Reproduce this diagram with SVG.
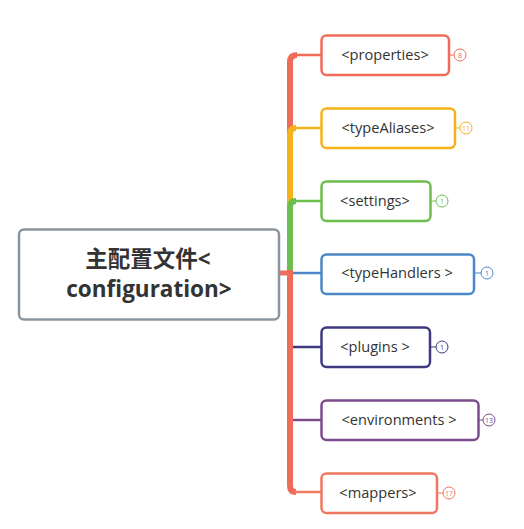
<svg xmlns="http://www.w3.org/2000/svg" width="524" height="529" viewBox="0 0 524 529">
<style>
.box{fill:#fff;stroke-width:2.5}
.t{font-family:"Open Sans","Noto Sans","Noto Sans CJK SC",sans-serif;font-size:14.6px;fill:#333;text-anchor:middle}
.rt{font-family:"Open Sans","Noto Sans","Noto Sans CJK SC",sans-serif;font-size:22.5px;font-weight:bold;fill:#333;text-anchor:middle}
.b{fill:#fff;stroke-width:1}
.bt{font-family:"Open Sans","Noto Sans",sans-serif;font-size:7px;text-anchor:middle}
.v{fill:none;stroke-width:6}
.h{fill:none;stroke-width:2.5}
</style>
<rect width="524" height="529" fill="#fff"/>
<g id="connectors">
  <path class="v" stroke="#f06c5a" d="M290,273 V62 Q290,55 297,55"/>
  <line class="h" stroke="#f06c5a" x1="296" y1="55" x2="321" y2="55"/>
  <path class="v" stroke="#f6b21a" d="M290,273 V134 Q290,128 296,128"/>
  <line class="h" stroke="#f6b21a" x1="296" y1="128" x2="321" y2="128"/>
  <path class="v" stroke="#6cbf4e" d="M290,271 V207 Q290,201 296,201"/>
  <line class="h" stroke="#6cbf4e" x1="296" y1="201" x2="321" y2="201"/>
  <line class="h" stroke="#4c88c6" x1="292" y1="273" x2="321" y2="273"/>
  <line class="h" stroke="#3e3a80" x1="292" y1="347" x2="321" y2="347"/>
  <line class="h" stroke="#7d4c8c" x1="292" y1="420" x2="321" y2="420"/>
  <path class="v" stroke="#f06c5a" d="M290,270 V486 Q290,492 296,492"/>
  <line class="h" stroke="#f07861" x1="295" y1="492" x2="321" y2="492"/>
  <line stroke="#f06c5a" stroke-width="5" x1="279" y1="273" x2="290" y2="273"/>
  <line stroke="#f06c5a" stroke-width="1" x1="449" y1="55" x2="454" y2="55"/>
  <line stroke="#f6b21a" stroke-width="1" x1="455" y1="128" x2="460" y2="128"/>
  <line stroke="#6cbf4e" stroke-width="1" x1="431" y1="201" x2="436" y2="201"/>
  <line stroke="#4c88c6" stroke-width="1" x1="474" y1="273" x2="481" y2="273"/>
  <line stroke="#3e3a80" stroke-width="1" x1="430" y1="347" x2="436" y2="347"/>
  <line stroke="#7d4c8c" stroke-width="1" x1="479" y1="420" x2="483" y2="420"/>
  <line stroke="#f07861" stroke-width="1" x1="437" y1="493" x2="443" y2="493"/>
</g>
<g id="root">
  <rect class="box" x="19" y="229.5" width="260" height="90" rx="5" stroke="#8b959e"/>
  <text class="rt" x="148" y="267">主配置文件&lt;</text>
  <text class="rt" x="149" y="297">configuration&gt;</text>
</g>
<g id="properties">
  <rect class="box" x="321.5" y="35.5" width="127.5" height="39.5" rx="5" stroke="#f06c5a"/>
  <text class="t" x="385" y="60">&lt;properties&gt;</text>
  <circle class="b" cx="460" cy="55" r="6" stroke="#f06c5a"/>
  <text class="bt" x="460" y="57.5" fill="#f06c5a">8</text>
</g>
<g id="typeAliases">
  <rect class="box" x="321.5" y="108.5" width="133.5" height="39.5" rx="5" stroke="#f6b21a"/>
  <text class="t" x="388" y="133">&lt;typeAliases&gt;</text>
  <circle class="b" cx="466" cy="128" r="6" stroke="#f6b21a"/>
  <text class="bt" x="466" y="130.5" fill="#f6b21a">11</text>
</g>
<g id="settings">
  <rect class="box" x="321.5" y="181.5" width="109" height="39.5" rx="5" stroke="#6cbf4e"/>
  <text class="t" x="375" y="206">&lt;settings&gt;</text>
  <circle class="b" cx="442" cy="201" r="6" stroke="#6cbf4e"/>
  <text class="bt" x="442" y="203.5" fill="#6cbf4e">1</text>
</g>
<g id="typeHandlers">
  <rect class="box" x="321.5" y="254.5" width="152.5" height="39.5" rx="5" stroke="#4c88c6"/>
  <text class="t" x="397" y="278">&lt;typeHandlers &gt;</text>
  <circle class="b" cx="487" cy="273" r="6" stroke="#4c88c6"/>
  <text class="bt" x="487" y="275.5" fill="#4c88c6">1</text>
</g>
<g id="plugins">
  <rect class="box" x="321.5" y="327.5" width="108.5" height="39.5" rx="5" stroke="#3e3a80"/>
  <text class="t" x="375" y="352">&lt;plugins &gt;</text>
  <circle class="b" cx="442" cy="347" r="6" stroke="#3e3a80"/>
  <text class="bt" x="442" y="349.5" fill="#3e3a80">1</text>
</g>
<g id="environments">
  <rect class="box" x="321.5" y="400.5" width="157" height="39.5" rx="5" stroke="#7d4c8c"/>
  <text class="t" x="399" y="425">&lt;environments &gt;</text>
  <circle class="b" cx="489" cy="420" r="6" stroke="#7d4c8c"/>
  <text class="bt" x="489" y="422.5" fill="#7d4c8c">13</text>
</g>
<g id="mappers">
  <rect class="box" x="321.5" y="473.5" width="115.5" height="39.5" rx="5" stroke="#f07861"/>
  <text class="t" x="378" y="498">&lt;mappers&gt;</text>
  <circle class="b" cx="449" cy="493" r="6" stroke="#f07861"/>
  <text class="bt" x="449" y="495.5" fill="#f07861">17</text>
</g>
</svg>
